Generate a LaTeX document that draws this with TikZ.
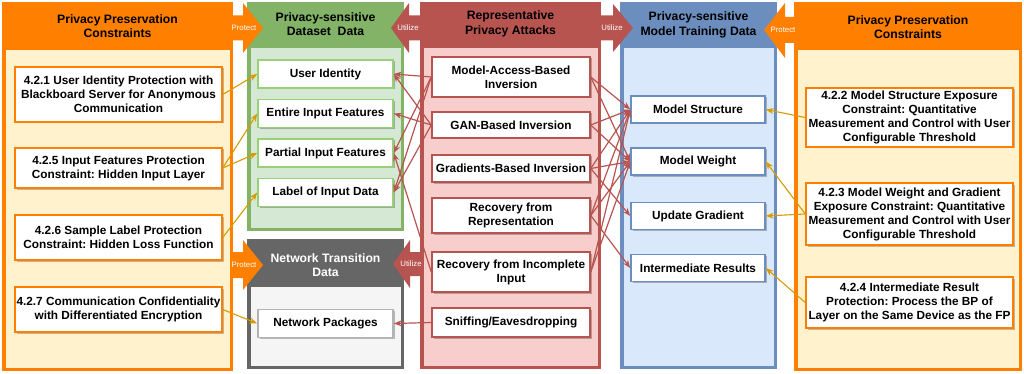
\documentclass[tikz,border=0pt]{standalone}
\usepackage{fontspec}
\setmainfont{Liberation Sans}
\usetikzlibrary{arrows.meta,shadows}
\definecolor{orangeHead}{HTML}{FF8000}
\definecolor{orangeBody}{HTML}{FFF2CC}
\definecolor{orangeLine}{HTML}{D79B00}
\definecolor{greenHead}{HTML}{82B366}
\definecolor{greenBody}{HTML}{D5E8D4}
\definecolor{greenItem}{HTML}{97D077}
\definecolor{greyHead}{HTML}{666666}
\definecolor{greyBody}{HTML}{F5F5F5}
\definecolor{greyItem}{HTML}{B3B3B3}
\definecolor{redHead}{HTML}{B85450}
\definecolor{redBody}{HTML}{F8CECC}
\definecolor{blueHead}{HTML}{6C8EBF}
\definecolor{blueBody}{HTML}{DAE8FC}
\frenchspacing

\begin{document}
\begin{tikzpicture}[x=1pt, y=-1pt,
    font=\bfseries\fontsize{11.8}{14}\selectfont,
    item/.style={draw, fill=white, line width=1.5pt, align=center, inner sep=0pt,
        drop shadow={shadow xshift=1.5pt, shadow yshift=-1.5pt, opacity=0.25, fill=black}},
    cons/.style={item, draw=orangeHead, minimum width=207pt},
    dset/.style={item, draw=greenItem, minimum width=135pt, minimum height=28pt},
    netw/.style={item, draw=greyItem, minimum width=135pt, minimum height=28pt},
    atk/.style={item, draw=redHead, minimum width=158pt},
    mdl/.style={item, draw=blueHead, minimum width=134pt, minimum height=27pt},
    title/.style={align=center, font=\bfseries\fontsize{12.2}{14.5}\selectfont},
    tag/.style={text=white, font=\fontsize{7.8}{8}\selectfont},
    protect/.style={-{Stealth[length=8pt, width=6pt]}, orangeLine, line width=1.1pt},
    attack/.style={-{Stealth[length=8pt, width=6pt]}, redHead, line width=1.2pt}]
    \useasboundingbox (0,0) rectangle (1024,374);

    \draw[orangeHead, fill=orangeHead, line width=2pt] (3,3) rectangle (232,370);
    \fill[orangeBody] (5.5,50) rectangle (229.5,367.5);
    \draw[greenHead, fill=greenHead, line width=2pt] (248,3) rectangle (403,230);
    \fill[greenBody] (250.5,48) rectangle (400.5,227.5);
    \draw[greyHead, fill=greyHead, line width=2pt] (248,240) rectangle (403,368);
    \fill[greyBody] (250.5,287) rectangle (400.5,365.5);
    \draw[redHead, fill=redHead, line width=2pt] (421,3) rectangle (600,368);
    \fill[redBody] (423.5,48) rectangle (597.5,365.5);
    \draw[blueHead, fill=blueHead, line width=2pt] (621,3) rectangle (776,368);
    \fill[blueBody] (623.5,48) rectangle (773.5,365.5);
    \draw[orangeHead, fill=orangeHead, line width=2pt] (795,3) rectangle (1021,370);
    \fill[orangeBody] (797.5,50) rectangle (1018.5,367.5);

    \fill[orangeHead] (232,15.5) -- (243,15.5) -- (243,3) -- (263,28) -- (243,53) -- (243,40.5) -- (232,40.5) -- cycle;
    \fill[orangeHead] (232,252) -- (243,252) -- (243,240) -- (263,265) -- (243,290) -- (243,278) -- (232,278) -- cycle;
    \fill[redHead] (422,15.5) -- (409,15.5) -- (409,3) -- (391,28) -- (409,53) -- (409,40.5) -- (422,40.5) -- cycle;
    \fill[redHead] (422,252) -- (410,252) -- (410,240) -- (393,264) -- (410,288) -- (410,276) -- (422,276) -- cycle;
    \fill[redHead] (600,15.5) -- (613,15.5) -- (613,4) -- (633,28) -- (613,52) -- (613,40.5) -- (600,40.5) -- cycle;
    \fill[orangeHead] (795,17) -- (785,17) -- (785,3) -- (764,30) -- (785,58) -- (785,43) -- (795,43) -- cycle;
    \node[tag] (protA) at (244,28) {Protect};
    \node[tag] (protB) at (244,265) {Protect};
    \node[tag] (utilA) at (408,28) {Utilize};
    \node[tag] (utilB) at (411,264) {Utilize};
    \node[tag] (utilC) at (612,28) {Utilize};
    \node[tag] (protC) at (783,30) {Protect};

    \node[title] (consL) at (117.5,26) {Privacy Preservation\\Constraints};
    \node[title] (dataT) at (325.5,24) {Privacy-sensitive\\Dataset~~Data};
    \node[title, text=white] (netT) at (325.5,265) {Network Transition\\Data};
    \node[title] (atkT) at (510.5,24) {Representative\\Privacy Attacks};
    \node[title] (mdlT) at (698.5,25) {Privacy-sensitive\\Model Training Data};
    \node[title] (consR) at (908,27) {Privacy Preservation\\Constraints};

    \node[cons, minimum height=55pt] (c421) at (118.5,94.5) {4.2.1 User Identity Protection with\\Blackboard Server for Anonymous\\Communication};
    \node[cons, minimum height=40pt] (c425) at (118.5,168) {4.2.5 Input Features Protection\\Constraint: Hidden Input Layer};
    \node[cons, minimum height=45pt] (c426) at (118.5,237.5) {4.2.6 Sample Label Protection\\Constraint: Hidden Loss Function};
    \node[cons, minimum height=45pt] (c427) at (118.5,309.5) {4.2.7 Communication Confidentiality\\with Differentiated Encryption};

    \node[dset] (uid) at (325.5,74) {User Identity};
    \node[dset] (eif) at (325.5,113.5) {Entire Input Features};
    \node[dset] (pif) at (325.5,153) {Partial Input Features};
    \node[dset] (lid) at (325.5,192.5) {Label of Input Data};
    \node[netw] (npk) at (325.5,323.5) {Network Packages};

    \node[atk, minimum height=40pt] (mai) at (511,77) {Model-Access-Based\\Inversion};
    \node[atk, minimum height=26pt] (gan) at (511,125) {GAN-Based Inversion};
    \node[atk, minimum height=27pt] (gbi) at (511,168.5) {Gradients-Based Inversion};
    \node[atk, minimum height=35pt] (rfr) at (511,215.5) {Recovery from\\Representation};
    \node[atk, minimum height=40pt] (rfi) at (511,272) {Recovery from Incomplete\\Input};
    \node[atk, minimum height=29pt] (snf) at (511,322.5) {Sniffing/Eavesdropping};

    \node[mdl] (mst) at (698,109.5) {Model Structure};
    \node[mdl] (mwt) at (698,161.5) {Model Weight};
    \node[mdl] (upg) at (698,216) {Update Gradient};
    \node[mdl] (imr) at (698,268) {Intermediate Results};

    \node[cons, minimum height=59pt] (c422) at (909.5,117.5) {4.2.2 Model Structure Exposure\\Constraint: Quantitative\\Measurement and Control with User\\Configurable Threshold};
    \node[cons, minimum height=62pt] (c423) at (909.5,214) {4.2.3 Model Weight and Gradient\\Exposure Constraint: Quantitative\\Measurement and Control with User\\Configurable Threshold};
    \node[cons, minimum height=51pt] (c424) at (909.5,302.5) {4.2.4 Intermediate Result\\Protection: Process the BP of\\Layer on the Same Device as the FP};

    \draw[protect] (c421.east) -- (uid.west);
    \draw[protect] (c425.east) -- (eif.west);
    \draw[protect] (c425.east) -- (pif.west);
    \draw[protect] (c426.east) -- (lid.west);
    \draw[protect] (c427.east) -- (npk.west);
    \draw[protect] (c422.west) -- (mst.east);
    \draw[protect] (c423.west) -- (mwt.east);
    \draw[protect] (c423.west) -- (upg.east);
    \draw[protect] (c424.west) -- (imr.east);

    \draw[attack] (mai.west) -- (uid.east);
    \draw[attack] (mai.west) -- (pif.east);
    \draw[attack] (mai.west) -- (lid.east);
    \draw[attack] (gan.west) -- (uid.east);
    \draw[attack] (gan.west) -- (eif.east);
    \draw[attack] (gan.west) -- (lid.east);
    \draw[attack] (rfi.west) -- (pif.east);
    \draw[attack] (snf.west) -- (npk.east);

    \draw[attack] (mai.east) -- (mst.west);
    \draw[attack] (mai.east) -- (mwt.west);
    \draw[attack] (gan.east) -- (mst.west);
    \draw[attack] (gan.east) -- (mwt.west);
    \draw[attack] (gbi.east) -- (mst.west);
    \draw[attack] (gbi.east) -- (mwt.west);
    \draw[attack] (gbi.east) -- (upg.west);
    \draw[attack] (rfr.east) -- (mst.west);
    \draw[attack] (rfr.east) -- (mwt.west);
    \draw[attack] (rfr.east) -- (imr.west);
    \draw[attack] (rfi.east) -- (mst.west);
    \draw[attack] (rfi.east) -- (mwt.west);
\end{tikzpicture}
\end{document}
